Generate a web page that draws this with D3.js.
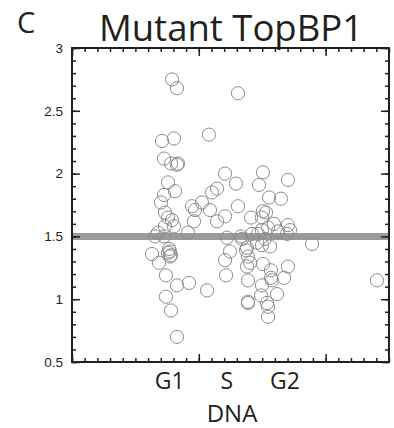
<!DOCTYPE html>
<html>
<head>
<meta charset="utf-8">
<script src="https://cdn.jsdelivr.net/npm/d3@7"></script>
<style>
  html, body { margin: 0; padding: 0; background: #fff; }
  svg { display: block; }
</style>
</head>
<body>
<svg id="chart" width="394" height="428"></svg>
<script>
// ---- data ----
const panelLetter = "C";
const chartTitle = "Mutant TopBP1";
const xAxisTitle = "DNA";
const phaseLabels = ["G1", "S", "G2"];
const phasePositions = [77, 122, 168];           // DNA-content scale units (0–250)
const yTickLabels = [0.5, 1, 1.5, 2, 2.5, 3];
const thresholdValue = 1.5;

const dnaContent = [
  78.9, 82.8, 71.0, 80.4, 72.6, 78.1, 82.8, 83.6, 75.7, 81.2,
  72.6, 70.2, 73.3, 75.7, 78.9, 80.4, 73.3, 67.8, 65.5, 72.6,
  76.5, 77.3, 78.1, 77.3, 75.7, 63.1, 68.6, 74.1, 82.8, 92.3,
  74.1, 78.1, 82.8, 91.5, 96.2, 94.6, 102.5, 97.0,
  108.0, 130.9, 120.7, 129.3, 114.4, 110.4, 108.8, 120.7, 114.4, 130.9,
  122.2, 134.1, 124.6, 120.7, 121.5, 106.5, 138.8, 133.3,
  150.6, 147.5, 170.3, 155.4, 164.8, 141.2, 150.6, 153.0, 149.8, 159.3,
  170.3, 171.9, 169.6, 142.0, 146.7, 149.8, 154.6, 162.5, 145.9, 149.8,
  156.2, 138.0, 138.8, 140.4, 138.0, 150.6, 170.3, 156.9, 138.8, 156.9,
  157.7, 167.2, 149.8, 161.7, 149.1, 138.8, 153.8, 154.6, 154.6, 152.2,
  137.2, 189.3, 240.5
];
const ratioValues = [
  2.75, 2.68, 2.26, 2.28, 2.12, 2.08, 2.07, 2.08, 1.93, 1.86,
  1.83, 1.77, 1.69, 1.65, 1.63, 1.58, 1.58, 1.53, 1.50, 1.50,
  1.40, 1.38, 1.35, 1.34, 1.37, 1.36, 1.29, 1.19, 1.11, 1.13,
  1.02, 0.91, 0.70, 1.53, 1.62, 1.74, 1.77, 1.71,
  2.31, 2.64, 2.00, 1.92, 1.88, 1.85, 1.71, 1.66, 1.62, 1.74,
  1.49, 1.48, 1.38, 1.31, 1.19, 1.07, 0.98, 1.50,
  2.01, 1.91, 1.95, 1.81, 1.80, 1.65, 1.70, 1.69, 1.65, 1.60,
  1.59, 1.55, 1.52, 1.52, 1.52, 1.55, 1.57, 1.54, 1.45, 1.43,
  1.42, 1.41, 1.34, 1.29, 1.26, 1.28, 1.26, 1.23, 1.15, 1.17,
  1.15, 1.17, 1.11, 1.04, 1.03, 0.97, 0.97, 0.94, 0.86, 1.48,
  1.39, 1.44, 1.15
];

// ---- layout ----
const svg = d3.select("#chart");
const mLeft = 72, mRight = 389, mTop = 48, mBottom = 362;
const axisColor = "#231f20";

const x = d3.scaleLinear().domain([0, 250]).range([mLeft, mRight]);
const y = d3.scaleLinear().domain([0.5, 3]).range([mBottom, mTop]);

const points = dnaContent.map((d, i) => ({ x: d, y: ratioValues[i] }));

// threshold band
svg.append("line")
  .attr("x1", x(0)).attr("x2", x(250))
  .attr("y1", y(thresholdValue)).attr("y2", y(thresholdValue))
  .attr("stroke", "#9b9b9b").attr("stroke-width", 7);

// points
svg.append("g").selectAll("circle")
  .data(points).join("circle")
  .attr("cx", d => x(d.x)).attr("cy", d => y(d.y))
  .attr("r", 6.6)
  .attr("fill", "none")
  .attr("stroke", "#8c8c8c")
  .attr("stroke-width", 1);

// ---- axes ----
const minorY = d3.range(0.5, 3.0001, 0.1).map(v => +v.toFixed(2));
const minorX = d3.range(0, 250.001, 10);
const majorX = [0, 100, 200];

function styleAxis(g) {
  g.select(".domain").remove();
  g.selectAll("line").attr("stroke", axisColor).attr("stroke-width", 1.5);
  g.selectAll("text").remove();
}

// left (ticks inward)
svg.append("g").attr("transform", `translate(${mLeft},0)`)
  .call(d3.axisRight(y).tickValues(minorY).tickSize(4)).call(styleAxis);
svg.append("g").attr("transform", `translate(${mLeft},0)`)
  .call(d3.axisRight(y).tickValues(yTickLabels).tickSize(8)).call(styleAxis);
// right
svg.append("g").attr("transform", `translate(${mRight},0)`)
  .call(d3.axisLeft(y).tickValues(minorY).tickSize(4)).call(styleAxis);
svg.append("g").attr("transform", `translate(${mRight},0)`)
  .call(d3.axisLeft(y).tickValues(yTickLabels).tickSize(8)).call(styleAxis);
// bottom
svg.append("g").attr("transform", `translate(0,${mBottom})`)
  .call(d3.axisTop(x).tickValues(minorX).tickSize(4)).call(styleAxis);
svg.append("g").attr("transform", `translate(0,${mBottom})`)
  .call(d3.axisTop(x).tickValues(majorX).tickSize(8)).call(styleAxis);
// top
svg.append("g").attr("transform", `translate(0,${mTop})`)
  .call(d3.axisBottom(x).tickValues(minorX).tickSize(4)).call(styleAxis);
svg.append("g").attr("transform", `translate(0,${mTop})`)
  .call(d3.axisBottom(x).tickValues(majorX).tickSize(8)).call(styleAxis);

// frame
svg.append("rect")
  .attr("x", mLeft).attr("y", mTop)
  .attr("width", mRight - mLeft).attr("height", mBottom - mTop)
  .attr("fill", "none").attr("stroke", axisColor).attr("stroke-width", 2);

// y tick labels
const yLab = svg.append("g").attr("transform", `translate(${mLeft},0)`)
  .call(d3.axisLeft(y).tickValues(yTickLabels).tickSize(0).tickPadding(9)
    .tickFormat(d => String(d)));
yLab.select(".domain").remove();
yLab.selectAll("text")
  .attr("font-family", "'Liberation Sans', Arial, sans-serif")
  .attr("font-size", 13.5).attr("fill", axisColor);

// phase labels
svg.append("g").selectAll("text")
  .data(phaseLabels).join("text")
  .attr("x", (d, i) => x(phasePositions[i]))
  .attr("y", 389)
  .attr("text-anchor", "middle")
  .attr("font-family", "'Open Sans', 'Noto Sans', sans-serif")
  .attr("font-size", 23)
  .attr("fill", axisColor)
  .text(d => d);

// axis title
svg.append("text")
  .attr("x", 232).attr("y", 422)
  .attr("text-anchor", "middle")
  .attr("font-family", "'Open Sans', 'Noto Sans', sans-serif")
  .attr("font-size", 24)
  .attr("fill", axisColor)
  .text(xAxisTitle);

// title
svg.append("text")
  .attr("x", 231).attr("y", 41)
  .attr("text-anchor", "middle")
  .attr("font-family", "'Open Sans', 'Noto Sans', sans-serif")
  .attr("font-size", 36.5)
  .attr("fill", axisColor)
  .text(chartTitle);

// panel letter
svg.append("text")
  .attr("x", 17).attr("y", 33)
  .attr("font-family", "'Open Sans', 'Noto Sans', sans-serif")
  .attr("font-size", 29)
  .attr("fill", axisColor)
  .text(panelLetter);
</script>
</body>
</html>
